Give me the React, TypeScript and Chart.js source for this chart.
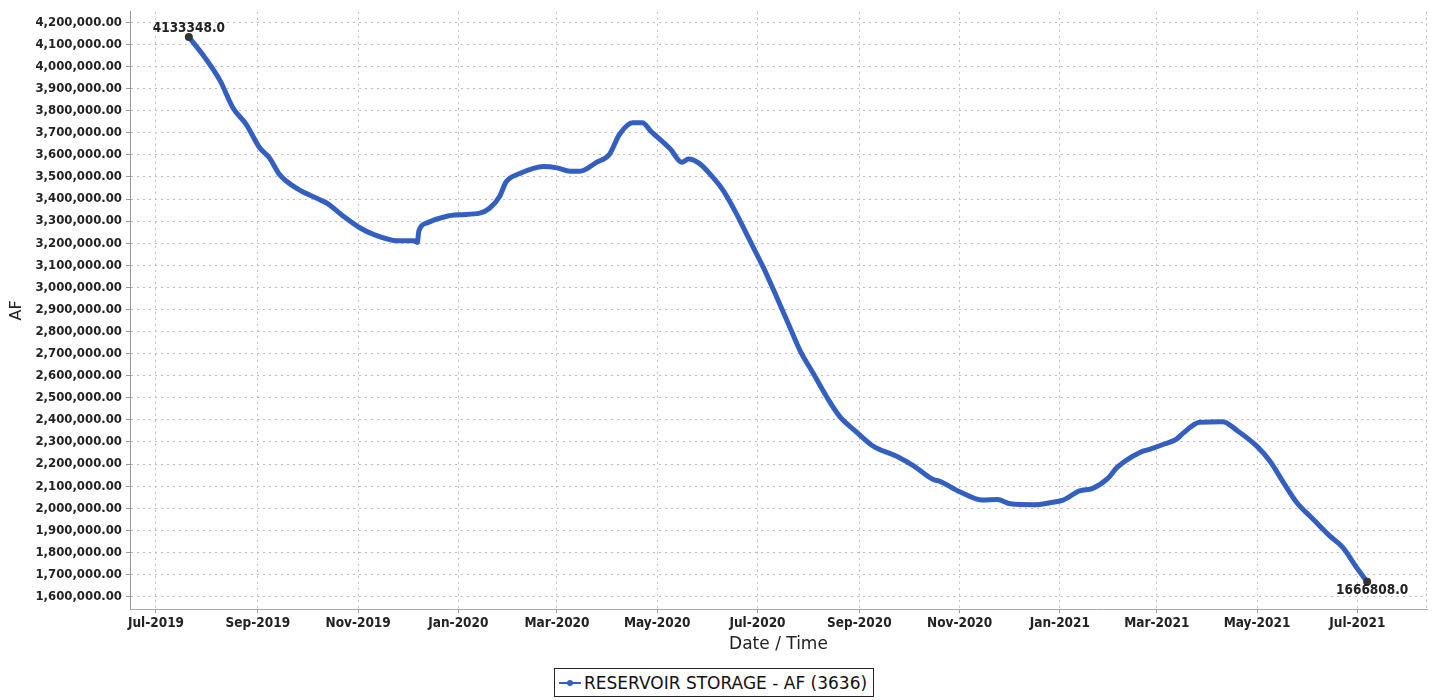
import React, { useEffect, useRef } from "react";
import { Chart, registerables } from "chart.js";

Chart.register(...registerables);

// ---- Data ----
const dates: string[] = [
  "2019-07-21", "2019-07-31", "2019-08-09", "2019-08-17", "2019-08-25",
  "2019-09-02", "2019-09-08", "2019-09-14", "2019-09-25", "2019-10-09",
  "2019-10-13", "2019-10-23", "2019-11-02", "2019-11-10", "2019-11-25",
  "2019-12-05", "2019-12-07", "2019-12-08", "2019-12-13", "2019-12-25",
  "2020-01-02", "2020-01-14", "2020-01-20", "2020-01-26", "2020-01-30",
  "2020-02-07", "2020-02-22", "2020-03-01", "2020-03-09", "2020-03-15",
  "2020-03-25", "2020-04-02", "2020-04-08", "2020-04-16", "2020-04-22",
  "2020-04-27", "2020-05-09", "2020-05-16", "2020-05-20", "2020-05-27",
  "2020-06-02", "2020-06-10", "2020-06-18", "2020-06-22", "2020-06-30",
  "2020-07-05", "2020-07-13", "2020-07-20", "2020-07-27", "2020-08-04",
  "2020-08-12", "2020-08-20", "2020-08-30", "2020-09-09", "2020-09-24",
  "2020-10-04", "2020-10-16", "2020-10-20", "2020-11-01", "2020-11-15",
  "2020-11-24", "2020-12-02", "2020-12-16", "2020-12-26", "2021-01-03",
  "2021-01-13", "2021-01-21", "2021-01-30", "2021-02-05", "2021-02-19",
  "2021-02-25", "2021-03-06", "2021-03-13", "2021-03-17", "2021-03-27",
  "2021-04-10", "2021-04-19", "2021-05-01", "2021-05-09", "2021-05-17",
  "2021-05-25", "2021-06-04", "2021-06-14", "2021-06-22", "2021-07-01",
  "2021-07-07",
];

const storageAF: number[] = [
  4133348, 4038000, 3936000, 3811000, 3737000,
  3633000, 3587000, 3513000, 3447000, 3396000,
  3381000, 3322000, 3270000, 3241000, 3211000,
  3211000, 3203000, 3256000, 3292000, 3322000,
  3329000, 3336000, 3358000, 3410000, 3477000,
  3514000, 3547000, 3541000, 3526000, 3526000,
  3566000, 3603000, 3692000, 3745000, 3745000,
  3708000, 3626000, 3566000, 3581000, 3559000,
  3514000, 3440000, 3336000, 3277000, 3158000,
  3084000, 2951000, 2832000, 2713000, 2610000,
  2506000, 2416000, 2347000, 2283000, 2234000,
  2192000, 2130000, 2122000, 2075000, 2037000,
  2040000, 2020000, 2016000, 2025000, 2037000,
  2079000, 2090000, 2134000, 2186000, 2254000,
  2268000, 2292000, 2313000, 2340000, 2389000,
  2392000, 2351000, 2280000, 2212000, 2117000,
  2027000, 1951000, 1876000, 1824000, 1727000,
  1666808,
];

const xTickDates: string[] = [
  "2019-07-01", "2019-09-01", "2019-11-01", "2020-01-01", "2020-03-01",
  "2020-05-01", "2020-07-01", "2020-09-01", "2020-11-01", "2021-01-01",
  "2021-03-01", "2021-05-01", "2021-07-01",
];
const xTickLabels: string[] = [
  "Jul-2019", "Sep-2019", "Nov-2019", "Jan-2020", "Mar-2020",
  "May-2020", "Jul-2020", "Sep-2020", "Nov-2020", "Jan-2021",
  "Mar-2021", "May-2021", "Jul-2021",
];
const yTickValues: number[] = [
  1600000, 1700000, 1800000, 1900000, 2000000, 2100000, 2200000,
  2300000, 2400000, 2500000, 2600000, 2700000, 2800000, 2900000,
  3000000, 3100000, 3200000, 3300000, 3400000, 3500000, 3600000,
  3700000, 3800000, 3900000, 4000000, 4100000, 4200000,
];

const seriesLabel = "RESERVOIR STORAGE - AF (3636)";
const xAxisTitle = "Date / Time";
const yAxisTitle = "AF";

const LINE_COLOR = "#3360c0";
const TICK_FONT = '"DejaVu Sans Condensed", "DejaVu Sans", sans-serif';
const TEXT_FONT = '"DejaVu Sans", sans-serif';

const toMs = (s: string) => Date.parse(s + "T00:00:00Z");
const DAY = 86400000;

export default function App() {
  const canvasRef = useRef<HTMLCanvasElement | null>(null);

  useEffect(() => {
    const canvas = canvasRef.current;
    if (!canvas) return;

    const points = dates.map((d, i) => ({ x: toMs(d), y: storageAF[i] }));
    const lastIdx = points.length - 1;

    const endLabels = {
      id: "endLabels",
      afterDatasetsDraw(chart: any) {
        const meta = chart.getDatasetMeta(0);
        const ctx = chart.ctx;
        const first = meta.data[0];
        const last = meta.data[meta.data.length - 1];
        ctx.save();
        ctx.font = `bold 13.5px ${TICK_FONT}`;
        ctx.fillStyle = "#222";
        ctx.textAlign = "center";
        ctx.textBaseline = "middle";
        ctx.fillText(storageAF[0].toFixed(1), first.x, first.y - 9);
        ctx.fillText(storageAF[storageAF.length - 1].toFixed(1), last.x + 5, last.y + 9);
        ctx.restore();
      },
    };

    const rightEdge = {
      id: "rightEdge",
      beforeDatasetsDraw(chart: any) {
        const { ctx, chartArea } = chart;
        ctx.save();
        ctx.strokeStyle = "#b5b5b5";
        ctx.lineWidth = 1;
        ctx.setLineDash([2, 4]);
        ctx.beginPath();
        ctx.moveTo(chartArea.right - 0.5, chartArea.top);
        ctx.lineTo(chartArea.right - 0.5, chartArea.bottom);
        ctx.stroke();
        ctx.restore();
      },
    };

    const chart = new Chart(canvas, {
      type: "line",
      data: {
        datasets: [
          {
            label: seriesLabel,
            data: points,
            borderColor: LINE_COLOR,
            backgroundColor: LINE_COLOR,
            borderWidth: 5,
            cubicInterpolationMode: "monotone",
            pointRadius: (c: any) => (c.dataIndex === 0 || c.dataIndex === lastIdx ? 4 : 0),
            pointBackgroundColor: "#333",
            pointBorderColor: "#333",
            pointBorderWidth: 0,
            fill: false,
          },
        ],
      },
      options: {
        responsive: false,
        animation: false,
        devicePixelRatio: 1,
        layout: { padding: { left: 0, right: 8, top: 2, bottom: 41 } },
        plugins: {
          legend: { display: false },
          tooltip: { enabled: false },
        },
        scales: {
          x: {
            type: "linear",
            min: toMs("2019-07-01") - 15.8 * DAY,
            max: toMs("2019-07-01") + 773.4 * DAY,
            afterFit: (scale: any) => {
              scale.height = 50;
            },
            afterBuildTicks: (scale: any) => {
              scale.ticks = xTickDates.map((d) => ({ value: toMs(d) }));
            },
            ticks: {
              autoSkip: false,
              maxRotation: 0,
              padding: 2,
              color: "#222",
              font: { family: TICK_FONT, size: 13.5, weight: "bold" },
              callback: (value: any) => {
                const i = xTickDates.findIndex((d) => toMs(d) === value);
                return i >= 0 ? xTickLabels[i] : "";
              },
            },
            grid: {
              color: "#bdbdbd",
              lineWidth: 1,
              tickLength: 4,
              tickColor: "#999",
              tickBorderDash: [],
            },
            border: { display: true, color: "#aaaaaa", width: 1, dash: [2, 4] },
            title: {
              display: true,
              text: xAxisTitle,
              color: "#222",
              font: { family: TEXT_FONT, size: 17 },
              padding: { top: 0, bottom: 4 },
            },
          },
          y: {
            type: "linear",
            min: 1543900,
            max: 4247600,
            afterFit: (scale: any) => {
              scale.width = 130;
            },
            afterBuildTicks: (scale: any) => {
              scale.ticks = yTickValues.map((v) => ({ value: v }));
            },
            ticks: {
              autoSkip: false,
              padding: 4,
              color: "#222",
              font: { family: TICK_FONT, size: 13, weight: "bold" },
              callback: (value: any) =>
                Number(value).toLocaleString("en-US", {
                  minimumFractionDigits: 2,
                  maximumFractionDigits: 2,
                }),
            },
            grid: {
              color: "#bdbdbd",
              lineWidth: 1,
              tickLength: 4,
              tickColor: "#999",
              tickBorderDash: [],
            },
            border: { display: true, color: "#999999", width: 1, dash: [2, 4] },
            title: {
              display: true,
              text: yAxisTitle,
              color: "#222",
              font: { family: TEXT_FONT, size: 16 },
              padding: { top: 7, bottom: 0 },
            },
          },
        },
      },
      plugins: [rightEdge, endLabels],
    } as any);

    return () => {
      chart.destroy();
    };
  }, []);

  return (
    <div
      style={{
        position: "fixed",
        left: 0,
        top: 0,
        width: 1435,
        height: 700,
        background: "#ffffff",
      }}
    >
      <canvas
        ref={canvasRef}
        width={1435}
        height={700}
        style={{ position: "absolute", left: 0, top: 0, width: 1435, height: 700 }}
      />
      <div
        style={{
          position: "absolute",
          left: 554,
          top: 668,
          width: 318,
          height: 27,
          border: "1px solid #222",
          display: "flex",
          alignItems: "center",
          boxSizing: "content-box",
          background: "#fff",
        }}
      >
        <span
          style={{
            position: "relative",
            display: "inline-block",
            width: 22,
            height: 2,
            marginLeft: 4,
            background: LINE_COLOR,
          }}
        >
          <span
            style={{
              position: "absolute",
              left: 8,
              top: -2,
              width: 6,
              height: 6,
              borderRadius: 3,
              background: LINE_COLOR,
            }}
          />
        </span>
        <span
          style={{
            marginLeft: 3,
            fontFamily: TEXT_FONT,
            fontSize: 17,
            color: "#111",
            whiteSpace: "nowrap",
          }}
        >
          {seriesLabel}
        </span>
      </div>
    </div>
  );
}
